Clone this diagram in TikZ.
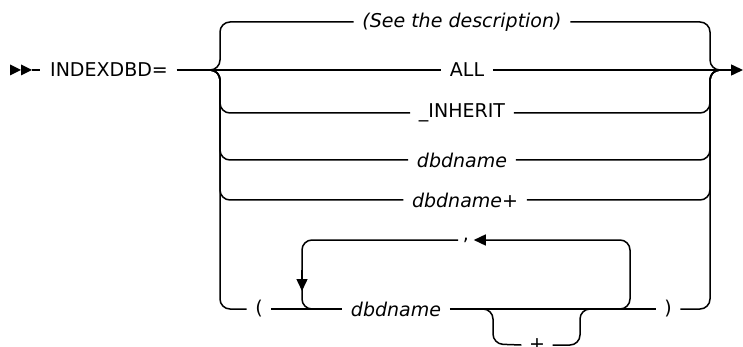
\documentclass[tikz,border=0pt]{standalone}
\usepackage{fontspec}
\setmainfont{DejaVu Sans}
\usetikzlibrary{arrows.meta}
\begin{document}
\begin{tikzpicture}[x=1pt,y=-1pt,line width=1.5pt,
  lbl/.style={font=\fontsize{19}{22}\selectfont,inner xsep=8pt,inner ysep=2pt,anchor=center},
  ilbl/.style={lbl,font=\fontsize{19}{22}\selectfont\itshape},
  rc/.style={rounded corners=10pt},
  tip/.style={-{Triangle[length=12pt,width=11pt]}}]
\useasboundingbox (0,0) rectangle (743,347);
% start marker
\fill (10,64.5) -- (21,70) -- (10,75.5) -- cycle;
\fill (21,64.5) -- (32,70) -- (21,75.5) -- cycle;
\node[lbl] (title) at (109,70) {INDEXDBD=};
\draw (32,70) -- (40,70);
% labels
\node[ilbl] (see) at (462,22) {(See the description)};
\node[lbl] (all) at (467,70) {ALL};
\node[lbl] (inh) at (462,113) {\_INHERIT};
\node[ilbl] (db1) at (462,160) {dbdname};
\node[ilbl] (db2) at (465,200) {dbdname+};
\node[lbl] (lp) at (259,309) {(};
\node[ilbl] (db3) at (396,309) {dbdname};
\node[lbl,inner xsep=4pt] (comma) at (466,240) {,};
\node[lbl] (rp) at (668,309) {)};
\node[lbl,inner xsep=7pt] (plus) at (537,345) {+};
% junction coordinates
\coordinate (jl) at (206,70);
\coordinate (jr) at (726,70);
\coordinate (endp) at (743,70);
% main straight line
\draw (title.east) -- (all.west);
\draw[tip] (all.east) -- (endp);
% left bracket
\draw[rc] (jl) -| (220,22) -- (see.west);
\foreach \n/\y in {inh/113,db1/160,db2/200,lp/309}
  \draw[rc] (jl) -| (220,\y) -- (\n.west);
% right bracket
\foreach \n/\y in {see/22,inh/113,db1/160,db2/200,rp/309}
  \draw[rc] (\n.east) -| (710,70) -- (jr);
% bottom row
\draw (lp.east) -- (db3.west);
\draw (db3.east) -- (rp.west);
% repeat loop
\coordinate (lr) at (616,309);
\coordinate (ll) at (316,309);
\draw[rc,tip] (lr) -| (630,240) -- (comma.east);
\draw[rc] (comma.west) -| (302,309) -- (ll);
\coordinate (a1) at (302,270);
\coordinate (a2) at (302,291);
\draw[tip] (a1) -- (a2);
% plus branch
\coordinate (pl) at (481,309);
\coordinate (pr) at (592,309);
\draw[rc] (pl) -| (493,344) -- (plus.west);
\draw[rc] (plus.east) -| (580,309) -- (pr);
\end{tikzpicture}
\end{document}
